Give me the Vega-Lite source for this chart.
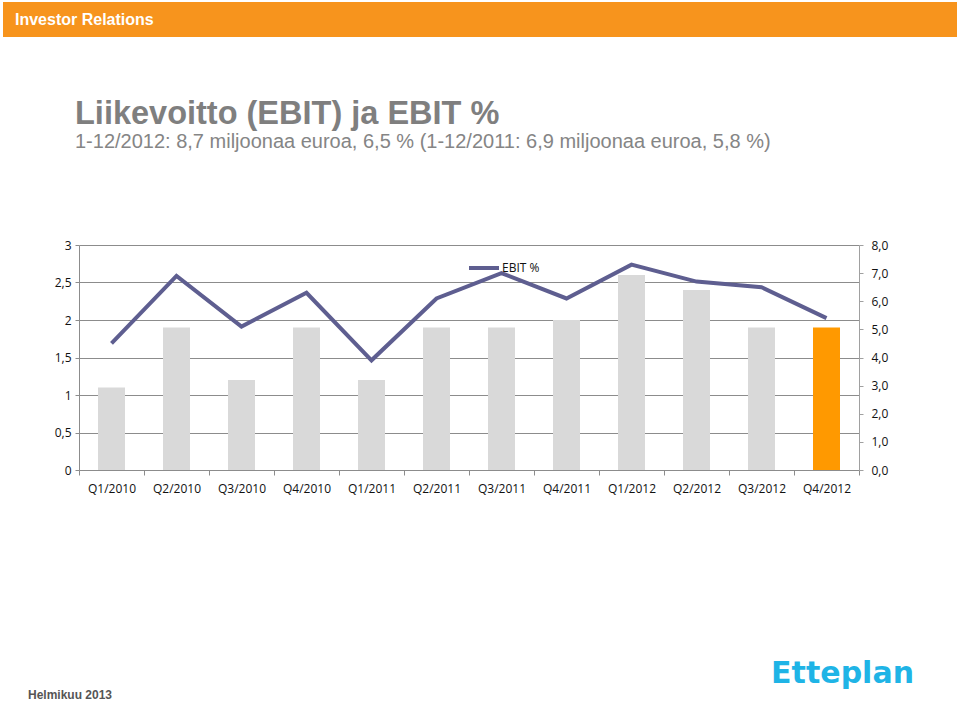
{
  "$schema": "https://vega.github.io/schema/vega-lite/v6.json",
  "background": "white",
  "padding": {"left": 3, "top": 2, "right": 3, "bottom": 0},
  "bounds": "flush",
  "spacing": 208,
  "config": {"view": {"stroke": null}},
  "vconcat": [
    {
      "width": 954,
      "height": 35,
      "view": {"fill": "#F7941D", "stroke": null},
      "data": {"values": [{"t": " "}]},
      "mark": {"type": "text", "text": " "},
      "title": {
        "text": "Investor Relations",
        "orient": "top",
        "anchor": "start",
        "frame": "group",
        "baseline": "alphabetic",
        "offset": -39,
        "dx": 12,
        "font": "Liberation Sans",
        "fontSize": 16,
        "fontWeight": "bold",
        "color": "#FFFFFF"
      }
    },
    {
      "bounds": "flush",
      "spacing": 0,
      "hconcat": [
        {
          "width": 76,
          "height": 225,
          "view": {"stroke": null},
          "data": {"values": [{"t": " "}]},
          "mark": {"type": "text", "text": " "},
          "title": {
            "text": "Helmikuu 2013",
            "orient": "bottom",
            "anchor": "start",
            "frame": "group",
            "baseline": "alphabetic",
            "offset": 229,
            "dx": 25,
            "font": "Liberation Sans",
            "fontSize": 12,
            "fontWeight": "bold",
            "color": "#555555"
          }
        },
        {
          "width": 780,
          "height": 225,
          "view": {"stroke": null},
          "title": {
            "text": "Liikevoitto (EBIT) ja EBIT %",
            "subtitle": "1-12/2012: 8,7 miljoonaa euroa, 6,5 % (1-12/2011: 6,9 miljoonaa euroa, 5,8 %)",
            "anchor": "start",
            "frame": "group",
            "offset": 87,
            "dx": -4,
            "font": "Liberation Sans",
            "fontSize": 32.5,
            "fontWeight": "bold",
            "color": "#7F7F7F",
            "subtitleFont": "Liberation Sans",
            "subtitleFontSize": 20,
            "subtitleColor": "#858585",
            "subtitlePadding": 2
          },
          "data": {
            "values": [
              {"q": "Q1/2010", "ebit": 1.1, "pct": 4.5, "hl": "n"},
              {"q": "Q2/2010", "ebit": 1.9, "pct": 6.9, "hl": "n"},
              {"q": "Q3/2010", "ebit": 1.2, "pct": 5.1, "hl": "n"},
              {"q": "Q4/2010", "ebit": 1.9, "pct": 6.3, "hl": "n"},
              {"q": "Q1/2011", "ebit": 1.2, "pct": 3.9, "hl": "n"},
              {"q": "Q2/2011", "ebit": 1.9, "pct": 6.1, "hl": "n"},
              {"q": "Q3/2011", "ebit": 1.9, "pct": 7.0, "hl": "n"},
              {"q": "Q4/2011", "ebit": 2.0, "pct": 6.1, "hl": "n"},
              {"q": "Q1/2012", "ebit": 2.6, "pct": 7.3, "hl": "n"},
              {"q": "Q2/2012", "ebit": 2.4, "pct": 6.7, "hl": "n"},
              {"q": "Q3/2012", "ebit": 1.9, "pct": 6.5, "hl": "n"},
              {"q": "Q4/2012", "ebit": 1.9, "pct": 5.4, "hl": "y"}
            ]
          },
          "encoding": {
            "x": {
              "field": "q",
              "type": "nominal",
              "sort": null,
              "scale": {"paddingInner": 0, "paddingOuter": 0},
              "axis": {
                "title": null,
                "labelAngle": 0,
                "labelFont": "Open Sans",
                "labelFontSize": 12,
                "labelColor": "#111111",
                "labelPadding": 8,
                "tickBand": "extent",
                "tickSize": 5,
                "tickColor": "#8C8C8C",
                "domainColor": "#8C8C8C",
                "grid": false
              }
            }
          },
          "layer": [
            {
              "mark": {"type": "bar", "size": 27},
              "encoding": {
                "y": {
                  "field": "ebit",
                  "type": "quantitative",
                  "scale": {"domain": [0, 3], "nice": false},
                  "axis": {
                    "title": null,
                    "values": [0, 0.5, 1, 1.5, 2, 2.5, 3],
                    "labelExpr": "replace(toString(datum.value), '.', ',')",
                    "labelFont": "Open Sans",
                    "labelFontSize": 12,
                    "labelColor": "#111111",
                    "labelPadding": 4,
                    "tickSize": 4,
                    "tickColor": "#8C8C8C",
                    "domainColor": "#8C8C8C",
                    "grid": true,
                    "gridColor": "#8C8C8C",
                    "gridOpacity": 1
                  }
                },
                "color": {
                  "field": "hl",
                  "type": "nominal",
                  "scale": {"domain": ["n", "y"], "range": ["#D9D9D9", "#FF9900"]},
                  "legend": null
                }
              }
            },
            {
              "mark": {"type": "line", "strokeWidth": 4},
              "encoding": {
                "y": {
                  "field": "pct",
                  "type": "quantitative",
                  "scale": {"domain": [0, 8], "nice": false},
                  "axis": {
                    "orient": "right",
                    "title": null,
                    "values": [0, 1, 2, 3, 4, 5, 6, 7, 8],
                    "labelExpr": "replace(format(datum.value, '.1f'), '.', ',')",
                    "labelFont": "Open Sans",
                    "labelFontSize": 12,
                    "labelColor": "#111111",
                    "labelPadding": 8,
                    "tickSize": 4,
                    "tickColor": "#A0A0A0",
                    "domainColor": "#A0A0A0",
                    "grid": false
                  }
                },
                "color": {
                  "datum": "EBIT %",
                  "type": "nominal",
                  "scale": {"range": ["#5E5E90"]},
                  "legend": {
                    "title": null,
                    "orient": "none",
                    "legendX": 388,
                    "legendY": 6,
                    "symbolType": "stroke",
                    "symbolSize": 900,
                    "symbolStrokeWidth": 4,
                    "labelFont": "Open Sans",
                    "labelFontSize": 12,
                    "labelColor": "#111111",
                    "labelOffset": 1
                  }
                }
              }
            }
          ],
          "resolve": {"scale": {"y": "independent", "color": "independent"}}
        },
        {
          "width": 98,
          "height": 225,
          "view": {"stroke": null},
          "data": {"values": [{"t": " "}]},
          "mark": {"type": "text", "text": " "},
          "title": {
            "text": "Etteplan",
            "orient": "bottom",
            "anchor": "end",
            "frame": "group",
            "baseline": "alphabetic",
            "offset": 213,
            "dx": -43,
            "font": "DejaVu Sans",
            "fontSize": 30,
            "fontWeight": "bold",
            "color": "#1FB4E6"
          }
        }
      ]
    }
  ]
}
